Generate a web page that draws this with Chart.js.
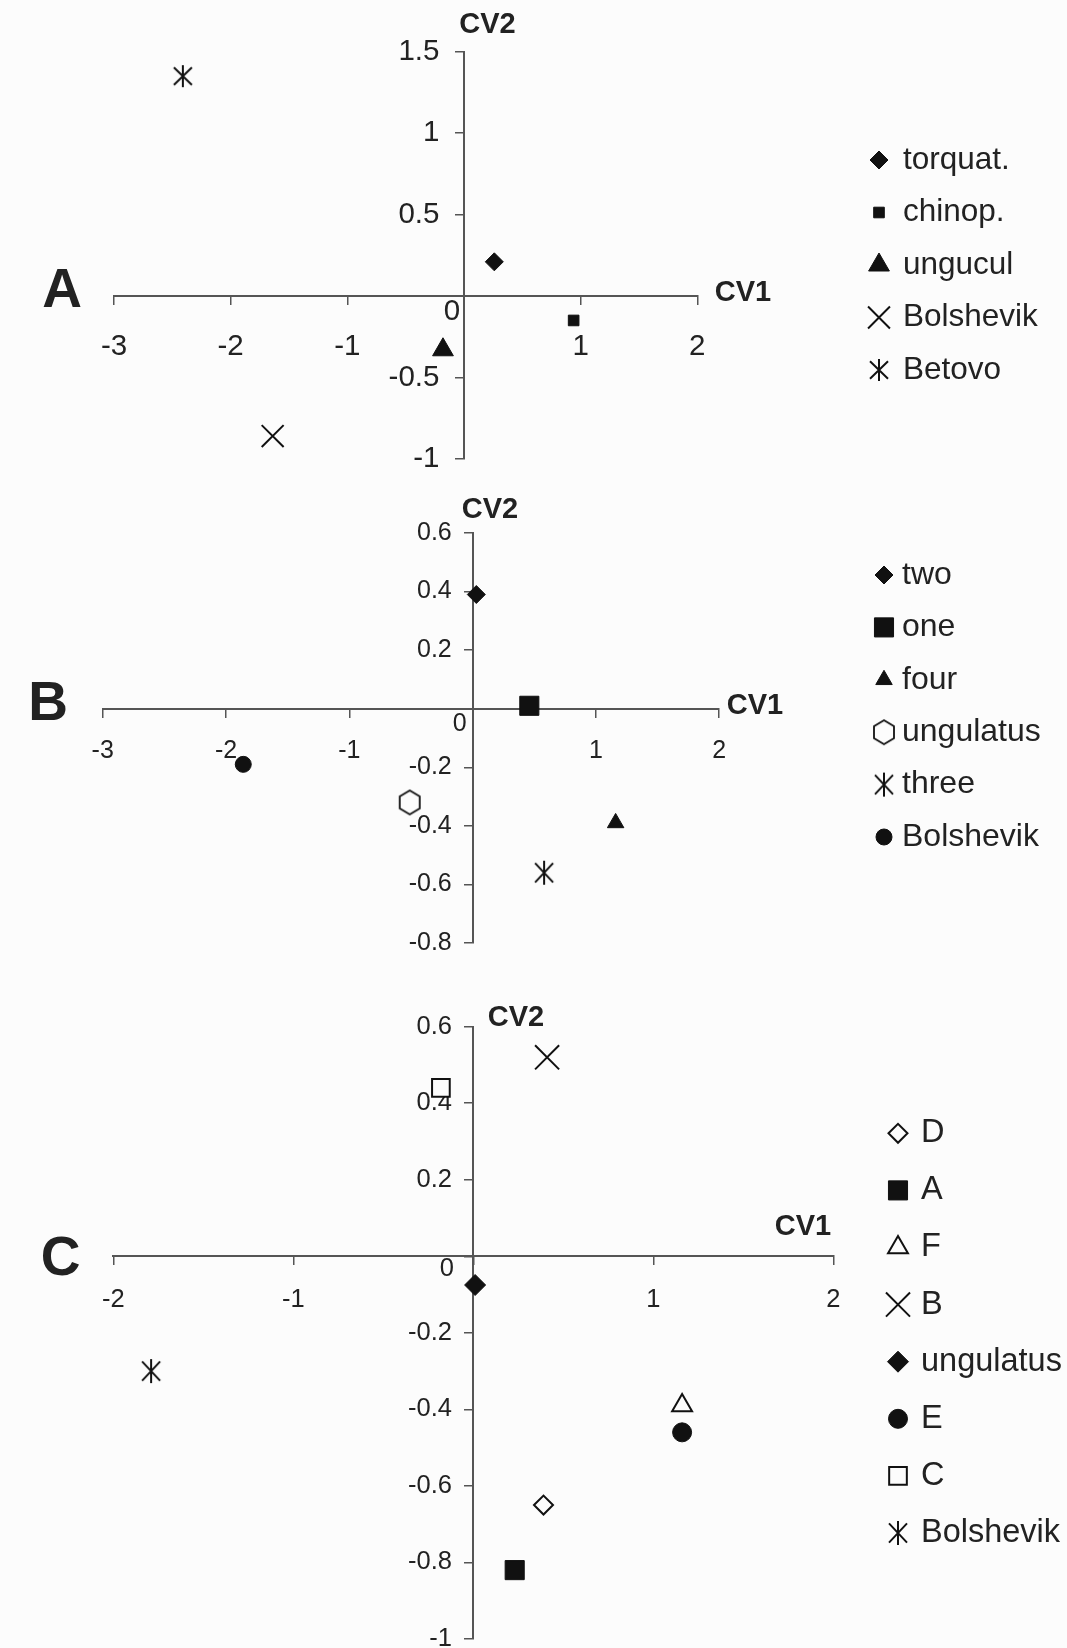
<!DOCTYPE html>
<html>
<head>
<meta charset="utf-8">
<script src="https://cdn.jsdelivr.net/npm/chart.js@4.4.1/dist/chart.umd.min.js"></script>
<style>
  html, body { margin: 0; padding: 0; background: #fcfcfc; overflow: hidden; }
  #wrap { position: relative; width: 1067px; height: 1648px; overflow: hidden; }
  canvas { position: absolute; left: 0; }
</style>
</head>
<body>
<div id="wrap">
  <canvas id="chartA" width="1067" height="480" style="top:0px"></canvas>
  <canvas id="chartB" width="1067" height="480" style="top:480px"></canvas>
  <canvas id="chartC" width="1067" height="700" style="top:960px"></canvas>
</div>
<script>
// ---- panel A
const groupsA = ['torquat.', 'chinop.', 'ungucul', 'Bolshevik', 'Betovo'];
const cv1A = [0.26, 0.94, -0.18, -1.64, -2.41];
const cv2A = [0.21, -0.15, -0.33, -0.86, 1.35];
const xTicksA = [-3, -2, -1, 0, 1, 2];
const yTicksA = [-1, -0.5, 0, 0.5, 1, 1.5];

// ---- panel B
const groupsB = ['two', 'one', 'four', 'ungulatus', 'three', 'Bolshevik'];
const cv1B = [0.03, 0.46, 1.16, -0.51, 0.58, -1.86];
const cv2B = [0.39, 0.01, -0.39, -0.32, -0.56, -0.19];
const xTicksB = [-3, -2, -1, 0, 1, 2];
const yTicksB = [-0.8, -0.6, -0.4, -0.2, 0, 0.2, 0.4, 0.6];

// ---- panel C
const groupsC = ['D', 'A', 'F', 'B', 'ungulatus', 'E', 'C', 'Bolshevik'];
const cv1C = [0.39, 0.23, 1.16, 0.41, 0.01, 1.16, -0.18, -1.79];
const cv2C = [-0.65, -0.82, -0.39, 0.52, -0.075, -0.46, 0.44, -0.30];
const xTicksC = [-2, -1, 0, 1, 2];
const yTicksC = [-1, -0.8, -0.6, -0.4, -0.2, 0, 0.2, 0.4, 0.6];

const INK = '#111';
const TXT = '#222';
const AXIS = '#555';
const BG = '#fcfcfc';
const FONT = '"Liberation Sans", Arial, sans-serif';

// marker images for the shapes chart.js has no style for
function asterisk(w, h) {
  const c = document.createElement('canvas');
  c.width = w + 4; c.height = h + 4;
  const g = c.getContext('2d');
  const cx = c.width / 2, cy = c.height / 2;
  g.strokeStyle = INK; g.lineWidth = 2;
  g.beginPath();
  g.moveTo(cx, cy - h / 2); g.lineTo(cx, cy + h / 2);
  g.moveTo(cx - w / 2, cy - h * 0.4); g.lineTo(cx + w / 2, cy + h * 0.4);
  g.moveTo(cx + w / 2, cy - h * 0.4); g.lineTo(cx - w / 2, cy + h * 0.4);
  g.stroke();
  return c;
}
function hexagon(w, h) {
  const c = document.createElement('canvas');
  c.width = w + 4; c.height = h + 4;
  const g = c.getContext('2d');
  const cx = c.width / 2, cy = c.height / 2;
  g.strokeStyle = INK; g.fillStyle = BG; g.lineWidth = 1.8;
  g.beginPath();
  g.moveTo(cx, cy - h / 2);
  g.lineTo(cx + w / 2, cy - h / 4);
  g.lineTo(cx + w / 2, cy + h / 4);
  g.lineTo(cx, cy + h / 2);
  g.lineTo(cx - w / 2, cy + h / 4);
  g.lineTo(cx - w / 2, cy - h / 4);
  g.closePath();
  g.fill(); g.stroke();
  return c;
}

const marksA = [
  { style: 'rectRot', r: 9, fill: INK, bw: 1 },
  { style: 'rect', r: 7.5, fill: INK, bw: 1 },
  { style: 'triangle', r: 12, fill: INK, bw: 1 },
  { style: 'crossRot', r: 15.5, fill: INK, bw: 2 },
  { style: asterisk(18, 22), r: 10, fill: INK, bw: 1 }
];
const marksB = [
  { style: 'rectRot', r: 9, fill: INK, bw: 1 },
  { style: 'rect', r: 13.5, fill: INK, bw: 1 },
  { style: 'triangle', r: 9.5, fill: INK, bw: 1 },
  { style: hexagon(20, 24), r: 11, fill: BG, bw: 1 },
  { style: asterisk(18, 24), r: 11, fill: INK, bw: 1 },
  { style: 'circle', r: 8, fill: INK, bw: 1 }
];
const marksC = [
  { style: 'rectRot', r: 9.5, fill: BG, bw: 2 },
  { style: 'rect', r: 13.5, fill: INK, bw: 1 },
  { style: 'triangle', r: 11.5, fill: BG, bw: 2 },
  { style: 'crossRot', r: 17, fill: INK, bw: 2 },
  { style: 'rectRot', r: 10.5, fill: INK, bw: 1 },
  { style: 'circle', r: 9.5, fill: INK, bw: 1 },
  { style: 'rect', r: 12.5, fill: BG, bw: 2 },
  { style: asterisk(18, 24), r: 11, fill: INK, bw: 1 }
];

// axis titles, panel letter, the "0" and the legend column
function panelText(look) {
  return {
    id: 'panelText',
    afterDraw(chart) {
      const ctx = chart.ctx;
      const sx = chart.scales.x, sy = chart.scales.y;
      ctx.save();
      ctx.fillStyle = TXT;
      ctx.textBaseline = 'middle';
      ctx.textAlign = 'center';
      ctx.font = look.tickSize + 'px ' + FONT;
      ctx.fillText('0', sx.getPixelForValue(0) + look.zero[0], sy.getPixelForValue(0) + look.zero[1]);
      ctx.font = 'bold 29px ' + FONT;
      ctx.fillText('CV2', look.cv2[0], look.cv2[1]);
      ctx.fillText('CV1', look.cv1[0], look.cv1[1]);
      ctx.font = 'bold 55px ' + FONT;
      ctx.fillText(look.letter, look.letterAt[0], look.letterAt[1]);

      ctx.font = look.legend.size + 'px ' + FONT;
      ctx.textAlign = 'left';
      chart.data.datasets.forEach((ds, i) => {
        const ly = look.legend.y + i * look.legend.dy;
        ctx.fillStyle = ds.pointBackgroundColor;
        ctx.strokeStyle = INK;
        ctx.lineWidth = ds.pointBorderWidth;
        Chart.helpers.drawPoint(ctx, {
          pointStyle: ds.pointStyle, radius: ds.pointRadius,
          borderWidth: ds.pointBorderWidth, rotation: 0
        }, look.legend.mx, ly);
        ctx.fillStyle = TXT;
        ctx.fillText(ds.label, look.legend.tx, ly);
      });
      ctx.restore();
    }
  };
}

function makePanel(id, groups, cv1, cv2, marks, xTicks, yTicks, look) {
  const datasets = groups.map((name, i) => ({
    label: name,
    data: [{ x: cv1[i], y: cv2[i] }],
    pointStyle: marks[i].style,
    pointRadius: marks[i].r,
    pointHoverRadius: marks[i].r,
    pointBackgroundColor: marks[i].fill,
    pointBorderColor: INK,
    pointBorderWidth: marks[i].bw,
    clip: false
  }));
  const tickFont = { family: FONT, size: look.tickSize };
  // labels of a y axis placed at x = 0 sit right on the line, so pad them with spaces
  const gap = '   ';
  return new Chart(document.getElementById(id), {
    type: 'scatter',
    data: { datasets },
    options: {
      responsive: false,
      animation: false,
      events: [],
      layout: { padding: look.pad },
      plugins: { legend: { display: false }, tooltip: { enabled: false } },
      scales: {
        x: {
          type: 'linear',
          min: xTicks[0], max: xTicks[xTicks.length - 1],
          position: { y: 0 },
          afterBuildTicks: s => { s.ticks = xTicks.map(v => ({ value: v })); },
          grid: { drawOnChartArea: false, color: AXIS, tickLength: 8, lineWidth: 1.5 },
          border: { color: AXIS, width: 2 },
          ticks: {
            autoSkip: false, maxRotation: 0, color: TXT, font: tickFont,
            padding: look.xPad,
            callback: v => (v === 0 ? '' : String(v))
          }
        },
        y: {
          type: 'linear',
          min: yTicks[0], max: yTicks[yTicks.length - 1],
          position: { x: 0 },
          afterBuildTicks: s => { s.ticks = yTicks.map(v => ({ value: v })); },
          grid: { drawOnChartArea: false, color: AXIS, tickLength: 8, lineWidth: 1.5 },
          border: { color: AXIS, width: 2 },
          ticks: {
            autoSkip: false, color: TXT, font: tickFont,
            padding: 0,
            callback: v => (v === 0 ? '' : String(v) + gap)
          }
        }
      }
    },
    plugins: [panelText(look)]
  });
}

makePanel('chartA', groupsA, cv1A, cv2A, marksA, xTicksA, yTicksA, {
  pad: { left: 114, right: 369.7, top: 51.7, bottom: 21.1 },
  tickSize: 29.5, xPad: 25,
  zero: [-12, 16],
  cv2: [487.5, 25], cv1: [743, 293],
  letter: 'A', letterAt: [62, 292],
  legend: { mx: 879, tx: 903, y: 160, dy: 52.5, size: 31.5 }
});

makePanel('chartB', groupsB, cv1B, cv2B, marksB, xTicksB, yTicksB, {
  pad: { left: 102.7, right: 347.8, top: 53, bottom: 17 },
  tickSize: 25, xPad: 19,
  zero: [-13, 15],
  cv2: [490, 30], cv1: [755, 226],
  letter: 'B', letterAt: [48, 225],
  legend: { mx: 884, tx: 902, y: 95, dy: 52.4, size: 32 }
});

makePanel('chartC', groupsC, cv1C, cv2C, marksC, xTicksC, yTicksC, {
  pad: { left: 113.3, right: 233.7, top: 66.7, bottom: 21 },
  tickSize: 25.5, xPad: 20,
  zero: [-26.5, 13],
  cv2: [516, 58], cv1: [803, 267],
  letter: 'C', letterAt: [60.5, 300],
  legend: { mx: 898, tx: 921, y: 173.3, dy: 57.1, size: 32.5 }
});
</script>
</body>
</html>
